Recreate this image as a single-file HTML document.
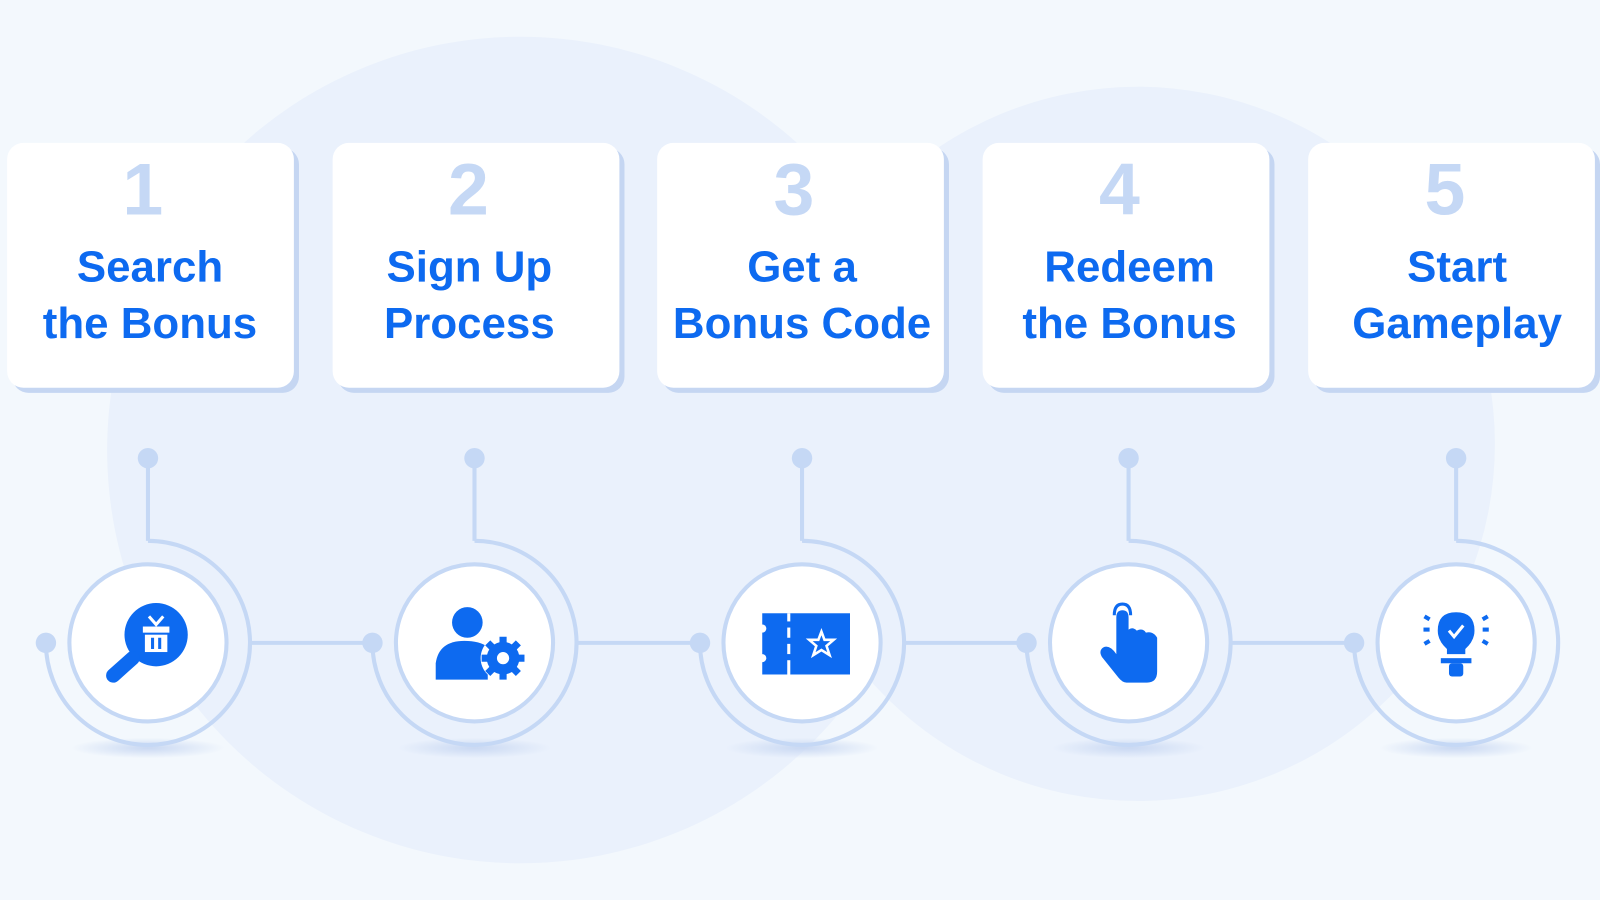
<!DOCTYPE html>
<html><head><meta charset="utf-8"><style>
html,body{margin:0;padding:0;background:#f3f8fd;}
svg{display:block;}
text{font-family:"Liberation Sans",sans-serif;font-weight:bold;text-anchor:middle;}
</style></head><body>
<svg width="1600" height="900" viewBox="0 0 1568 882" preserveAspectRatio="none" xmlns="http://www.w3.org/2000/svg">
<defs>
<radialGradient id="sh" cx="50%" cy="50%" r="50%"><stop offset="0" stop-color="#c9d8f2"/><stop offset="1" stop-color="#c9d8f2" stop-opacity="0"/></radialGradient>
<g id="node">
  <ellipse cx="0" cy="103" rx="75" ry="10" fill="url(#sh)"/>
  <line x1="0" y1="-181" x2="0" y2="-100" stroke="#c5d8f5" stroke-width="4"/>
  <circle cx="0" cy="-181" r="10" fill="#c5d8f5"/>
  <path d="M0,-100 A100,100 0 1 1 -100,0" fill="none" stroke="#c5d8f5" stroke-width="4"/>
  <circle cx="-100" cy="0" r="10" fill="#c5d8f5"/>
  <circle cx="0" cy="0" r="77" fill="#fff" stroke="#c5d8f5" stroke-width="4"/>
</g>
<g id="card">
  <rect x="5" y="5" width="281" height="240" rx="16" fill="#c5d6f2"/>
  <rect x="0" y="0" width="281" height="240" rx="16" fill="#fff"/>
</g>
</defs>
<rect width="1568" height="882" fill="#f3f8fd"/>
<circle cx="510" cy="441" r="405" fill="#eaf1fc"/>
<circle cx="1115" cy="435" r="350" fill="#eaf1fc"/>
<g stroke="#c5d8f5" stroke-width="4">
<line x1="245" y1="630" x2="366" y2="630"/>
<line x1="566" y1="630" x2="686" y2="630"/>
<line x1="886" y1="630" x2="1006" y2="630"/>
<line x1="1206" y1="630" x2="1327" y2="630"/>
</g>
<use href="#node" x="145" y="630"/>
<use href="#node" x="465" y="630"/>
<use href="#node" x="786" y="630"/>
<use href="#node" x="1106" y="630"/>
<use href="#node" x="1427" y="630"/>
<use href="#card" x="7" y="140"/>
<use href="#card" x="326" y="140"/>
<use href="#card" x="644" y="140"/>
<use href="#card" x="963" y="140"/>
<use href="#card" x="1282" y="140"/>
<g fill="#c5d8f5" font-size="72">
<text x="140" y="210">1</text><text x="459" y="210">2</text><text x="778" y="210">3</text><text x="1097" y="210">4</text><text x="1416" y="210">5</text>
</g>
<g fill="#0d6af0" font-size="43">
<text x="147" y="276">Search</text><text x="147" y="331">the Bonus</text>
<text x="460" y="276">Sign Up</text><text x="460" y="331">Process</text>
<text x="786" y="276">Get a</text><text x="786" y="331">Bonus Code</text>
<text x="1107" y="276">Redeem</text><text x="1107" y="331">the Bonus</text>
<text x="1428" y="276">Start</text><text x="1428" y="331">Gameplay</text>
</g>
<g fill="#0d6af0">
  <circle cx="153" cy="622" r="31"/>
  <line x1="130" y1="645" x2="111" y2="662" stroke="#0d6af0" stroke-width="14" stroke-linecap="round"/>
  <rect x="140" y="614" width="26" height="6" fill="#fff"/>
  <rect x="142" y="622" width="22" height="17" fill="#fff"/>
  <rect x="148" y="625" width="3" height="11" fill="#0d6af0"/><rect x="155" y="625" width="3" height="11" fill="#0d6af0"/>
  <path d="M146,604 L153,612 L160,604" stroke="#fff" stroke-width="3" fill="none"/>
  <circle cx="458" cy="610" r="15"/>
  <path d="M427,666 L427,650 Q430,628 455,628 Q470,628 478,634 L478,666 Z"/>
  <circle cx="493" cy="645" r="22" fill="#fff"/>
  <circle cx="493" cy="645" r="16"/>
  <g stroke="#0d6af0" stroke-width="7">
    <line x1="493" y1="624" x2="493" y2="666"/><line x1="472" y1="645" x2="514" y2="645"/>
    <line x1="478" y1="630" x2="508" y2="660"/><line x1="508" y1="630" x2="478" y2="660"/>
  </g>
  <circle cx="493" cy="645" r="6" fill="#fff"/>
  <rect x="747" y="601" width="86" height="60"/>
  <circle cx="747" cy="616" r="4" fill="#fff"/><circle cx="747" cy="645" r="4" fill="#fff"/>
  <g stroke="#fff" stroke-width="3"><line x1="773" y1="601" x2="773" y2="609"/><line x1="773" y1="615" x2="773" y2="625"/><line x1="773" y1="631" x2="773" y2="641"/><line x1="773" y1="647" x2="773" y2="661"/></g>
  <path d="M805,619 L808,627 L817,627 L810,633 L813,642 L805,637 L797,642 L800,633 L793,627 L802,627 Z" fill="none" stroke="#fff" stroke-width="2.5"/>
  <path d="M1092,603 Q1092,592 1100,592 Q1108,592 1108,603" fill="none" stroke="#0d6af0" stroke-width="3"/>
  <path d="M1094,605 Q1094,598 1100,598 Q1106,598 1106,605 L1106,617 Q1110,614 1114,618 Q1120,615 1123,620 Q1130,618 1134,625 L1134,658 Q1134,669 1124,669 L1104,669 Q1100,669 1096,664 L1080,644 Q1076,637 1082,634 Q1088,632 1094,641 Z"/>
  <path d="M1427,600 Q1445,600 1445,618 Q1445,628 1436,636 L1436,641 L1418,641 L1418,636 Q1409,628 1409,618 Q1409,600 1427,600 Z"/>
  <path d="M1420,618 L1425,624 L1434,613" stroke="#fff" stroke-width="3" fill="none"/>
  <rect x="1412" y="645" width="30" height="5"/><rect x="1420" y="650" width="14" height="13" rx="3"/>
  <g stroke="#0d6af0" stroke-width="4"><line x1="1395" y1="617" x2="1401" y2="617"/><line x1="1453" y1="617" x2="1459" y2="617"/>
  <line x1="1396" y1="604" x2="1401" y2="607"/><line x1="1458" y1="604" x2="1453" y2="607"/>
  <line x1="1396" y1="631" x2="1401" y2="628"/><line x1="1458" y1="631" x2="1453" y2="628"/></g>
</g>
</svg>
</body></html>
